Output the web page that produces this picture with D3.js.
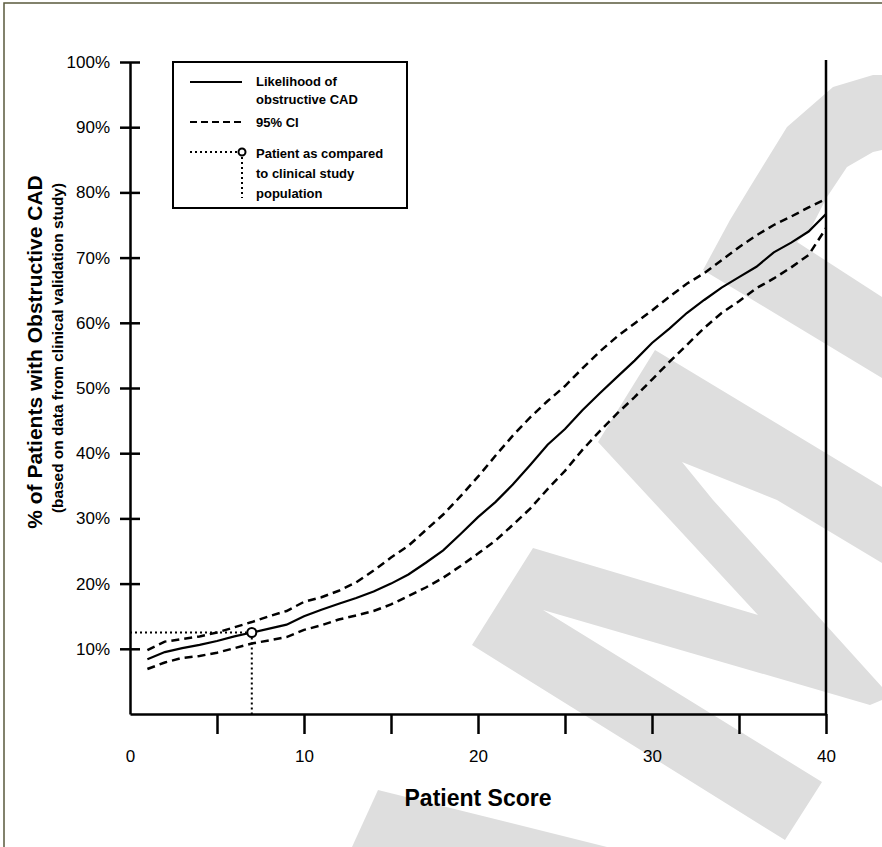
<!DOCTYPE html>
<html>
<head>
<meta charset="utf-8">
<script src="https://cdn.jsdelivr.net/npm/d3@7"></script>
<style>
  body { margin: 0; background: #fff; }
  svg { display: block; font-family: "Liberation Sans", Arial, sans-serif; }
</style>
</head>
<body>
<div id="chart"></div>
<script>
// Patient score 1..40
const scores = d3.range(1, 41);

// Likelihood of obstructive CAD (%)
const likelihood = [8.4, 9.5, 10.1, 10.6, 11.2, 11.9, 12.5, 13.1, 13.7, 15.0,
  16.0, 16.9, 17.8, 18.8, 20.0, 21.4, 23.2, 25.1, 27.6, 30.2,
  32.5, 35.2, 38.2, 41.3, 43.7, 46.6, 49.2, 51.7, 54.2, 56.9,
  59.1, 61.5, 63.5, 65.4, 67.0, 68.6, 70.8, 72.3, 74.0, 76.7];

// 95% CI upper / lower (%)
const ciUpper = [9.8, 11.1, 11.5, 11.9, 12.5, 13.3, 14.1, 15.0, 15.8, 17.2,
  17.9, 18.9, 20.2, 22.0, 24.0, 25.8, 28.2, 30.6, 33.4, 36.4,
  39.6, 42.7, 45.5, 48.0, 50.3, 53.0, 55.6, 57.9, 59.9, 61.9,
  64.0, 66.0, 67.6, 69.6, 71.6, 73.4, 75.0, 76.3, 77.7, 79.0];

const ciLower = [6.9, 7.9, 8.6, 8.9, 9.4, 10.1, 10.8, 11.3, 11.8, 12.9,
  13.6, 14.5, 15.1, 15.8, 16.8, 18.1, 19.4, 20.9, 22.7, 24.6,
  26.6, 29.0, 31.5, 34.5, 37.3, 40.5, 43.4, 46.1, 48.6, 51.3,
  54.0, 56.6, 59.2, 61.5, 63.3, 65.3, 66.8, 68.5, 70.4, 74.5];

// the patient shown on the chart
const patientScore = 7;
const patientValue = 12.5;

const xTicks = [0, 5, 10, 15, 20, 25, 30, 35, 40];
const yTicks = [10, 20, 30, 40, 50, 60, 70, 80, 90, 100];

const width = 882, height = 847;

const svg = d3.select("#chart").append("svg")
  .attr("width", width)
  .attr("height", height);

svg.append("rect").attr("width", width).attr("height", height).attr("fill", "#fff");

// watermark shapes behind the chart
const watermark = [
  [[703,270],[730,220],[750,187],[787,127],[833,87],[873,75],[882,75],[882,150],[873,152],[847,167],[827,197],[810,230],[797,242],[882,297],[882,378]],
  [[598,442],[655,350],[882,487],[882,563],[777,500],[682,462],[713,500],[882,687],[882,700],[870,705],
   [543,610],[822,782],[785,840],[472,645],[533,548],[758,615]],
  [[352,847],[378,790],[607,847]]
];
svg.append("g").selectAll("path").data(watermark).join("path")
  .attr("d", d => d3.line()(d) + "Z")
  .attr("fill", "#dedede");

// frame around the whole picture
svg.append("rect")
  .attr("x", 4).attr("y", 3)
  .attr("width", width + 10).attr("height", height + 10)
  .attr("fill", "none")
  .attr("stroke", "#5a5a3c")
  .attr("stroke-width", 1.5);

const x = d3.scaleLinear().domain([0, 40]).range([130, 826]);
const y = d3.scaleLinear().domain([0, 100]).range([714, 62]);

// y axis, ticks crossing the line
const yAxis = svg.append("g")
  .attr("transform", `translate(${x(0)},0)`)
  .call(d3.axisLeft(y).tickValues(yTicks).tickSize(10).tickPadding(10).tickSizeOuter(0)
    .tickFormat(d => d + "%"));
yAxis.selectAll(".tick line").attr("x1", 10);
yAxis.selectAll("line, path").attr("stroke", "#000").attr("stroke-width", 2.5);
yAxis.selectAll("text").attr("font-size", 17).attr("fill", "#000");

// x axis
const xAxis = svg.append("g")
  .attr("transform", `translate(0,${y(0)})`)
  .call(d3.axisBottom(x).tickValues(xTicks).tickSize(20).tickPadding(16).tickSizeOuter(0)
    .tickFormat(d => d % 10 === 0 ? d : ""));
xAxis.selectAll(".tick").filter(d => d === 0).select("line").remove();
xAxis.selectAll("line, path").attr("stroke", "#000").attr("stroke-width", 2.5);
xAxis.selectAll("text").attr("font-size", 17).attr("fill", "#000");

// right border line at score 40
svg.append("line")
  .attr("x1", x(40)).attr("x2", x(40))
  .attr("y1", y(100) - 2).attr("y2", y(0))
  .attr("stroke", "#000").attr("stroke-width", 2.5);

// axis titles
svg.append("text")
  .attr("x", x(20)).attr("y", 806)
  .attr("text-anchor", "middle")
  .attr("font-size", 23).attr("font-weight", "bold")
  .text("Patient Score");

svg.append("text")
  .attr("transform", "translate(42,352) rotate(-90)")
  .attr("text-anchor", "middle")
  .attr("font-size", 21).attr("font-weight", "bold")
  .text("% of Patients with Obstructive CAD");

svg.append("text")
  .attr("transform", "translate(63,348) rotate(-90)")
  .attr("text-anchor", "middle")
  .attr("font-size", 15.4).attr("font-weight", "bold")
  .text("(based on data from clinical validation study)");

// curves
const line = vals => d3.line()
  .x((d, i) => x(scores[i]))
  .y(d => y(d))(vals);

svg.append("path").attr("d", line(ciUpper))
  .attr("fill", "none").attr("stroke", "#000").attr("stroke-width", 2.5)
  .attr("stroke-dasharray", "8,5");
svg.append("path").attr("d", line(ciLower))
  .attr("fill", "none").attr("stroke", "#000").attr("stroke-width", 2.5)
  .attr("stroke-dasharray", "8,5");
svg.append("path").attr("d", line(likelihood))
  .attr("fill", "none").attr("stroke", "#000").attr("stroke-width", 2.2);

// patient marker
svg.append("line")
  .attr("x1", x(0)).attr("x2", x(patientScore) - 5)
  .attr("y1", y(patientValue)).attr("y2", y(patientValue))
  .attr("stroke", "#000").attr("stroke-width", 2).attr("stroke-dasharray", "2,3");
svg.append("line")
  .attr("x1", x(patientScore)).attr("x2", x(patientScore))
  .attr("y1", y(patientValue) + 5).attr("y2", y(0))
  .attr("stroke", "#000").attr("stroke-width", 2).attr("stroke-dasharray", "2,3");
svg.append("circle")
  .attr("cx", x(patientScore)).attr("cy", y(patientValue)).attr("r", 4.5)
  .attr("fill", "#fff").attr("stroke", "#000").attr("stroke-width", 2);

// legend
const lg = svg.append("g");
lg.append("rect")
  .attr("x", 173).attr("y", 62).attr("width", 234).attr("height", 146)
  .attr("fill", "#fff").attr("stroke", "#000").attr("stroke-width", 2);
lg.append("line").attr("x1", 190).attr("x2", 242).attr("y1", 82).attr("y2", 82)
  .attr("stroke", "#000").attr("stroke-width", 2.2);
lg.append("line").attr("x1", 190).attr("x2", 242).attr("y1", 122).attr("y2", 122)
  .attr("stroke", "#000").attr("stroke-width", 2.2).attr("stroke-dasharray", "7,4");
lg.append("line").attr("x1", 190).attr("x2", 238).attr("y1", 152).attr("y2", 152)
  .attr("stroke", "#000").attr("stroke-width", 2).attr("stroke-dasharray", "2,3");
lg.append("line").attr("x1", 242).attr("x2", 242).attr("y1", 157).attr("y2", 198)
  .attr("stroke", "#000").attr("stroke-width", 2).attr("stroke-dasharray", "2,3");
lg.append("circle").attr("cx", 242).attr("cy", 152).attr("r", 3.5)
  .attr("fill", "#fff").attr("stroke", "#000").attr("stroke-width", 2);

const legendText = [
  ["Likelihood of", 85.5], ["obstructive CAD", 104], ["95% CI", 126.5],
  ["Patient as compared", 158], ["to clinical study", 177.5], ["population", 197.5]
];
lg.selectAll("text.lt").data(legendText).join("text")
  .attr("class", "lt")
  .attr("x", 256).attr("y", d => d[1])
  .attr("font-size", 13).attr("font-weight", "bold")
  .text(d => d[0]);
</script>
</body>
</html>
